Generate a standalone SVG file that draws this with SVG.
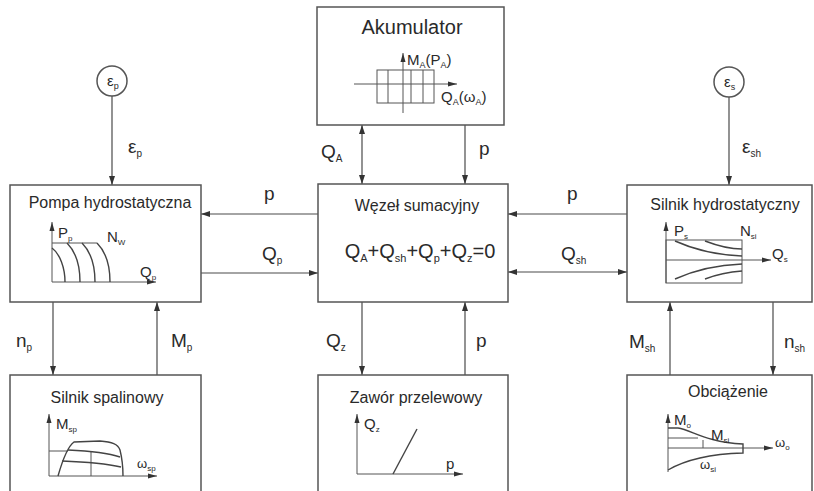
<svg xmlns="http://www.w3.org/2000/svg" width="814" height="491" viewBox="0 0 814 491">
<style>
text{font-family:"Liberation Sans",Arial,sans-serif;fill:#2a2a2a}
.box{fill:#fff;stroke:#555;stroke-width:1.5}
.t{font-size:16px;text-anchor:middle}
.lbl{font-size:19px}
.ch{font-size:15px}
.w{font-size:13px}
.c{fill:none;stroke:#4a4a4a;stroke-width:1.2}
.g{fill:none;stroke:#555;stroke-width:1}
.gc{fill:none;stroke:#444;stroke-width:1.4}
</style>
<defs>
<marker id="ar" markerUnits="userSpaceOnUse" markerWidth="9" markerHeight="7" refX="9" refY="3.5" orient="auto-start-reverse"><path d="M0,0.5 L9,3.5 L0,6.5 z" fill="#333"/></marker>
<marker id="ax" markerUnits="userSpaceOnUse" markerWidth="9" markerHeight="6" refX="9" refY="3" orient="auto"><path d="M0,0.5 L9,3 L0,5.5 z" fill="#333"/></marker>
</defs>
<rect width="814" height="491" fill="#fff"/>

<g id="connectors">
<line class="c" x1="112" y1="96" x2="112" y2="185" marker-end="url(#ar)"/>
<line class="c" x1="729" y1="97" x2="729" y2="185" marker-end="url(#ar)"/>
<line class="c" x1="362" y1="125" x2="362" y2="184" marker-start="url(#ar)" marker-end="url(#ar)"/>
<line class="c" x1="465" y1="125" x2="465" y2="184" marker-end="url(#ar)"/>
<line class="c" x1="318" y1="214" x2="201" y2="214" marker-end="url(#ar)"/>
<line class="c" x1="201" y1="273" x2="318" y2="273" marker-end="url(#ar)"/>
<line class="c" x1="627" y1="214" x2="508" y2="214" marker-end="url(#ar)"/>
<line class="c" x1="508" y1="272" x2="627" y2="272" marker-start="url(#ar)" marker-end="url(#ar)"/>
<line class="c" x1="53" y1="302" x2="53" y2="375" marker-end="url(#ar)"/>
<line class="c" x1="157" y1="375" x2="157" y2="302" marker-end="url(#ar)"/>
<line class="c" x1="362" y1="302" x2="362" y2="375" marker-end="url(#ar)"/>
<line class="c" x1="465" y1="375" x2="465" y2="302" marker-end="url(#ar)"/>
<line class="c" x1="670" y1="375" x2="670" y2="302" marker-end="url(#ar)"/>
<line class="c" x1="773" y1="302" x2="773" y2="375" marker-end="url(#ar)"/>
<text class="lbl" x="128" y="153">ε<tspan font-size="10" dy="4">p</tspan></text>
<text class="lbl" x="742" y="153">ε<tspan font-size="10" dy="4">sh</tspan></text>
<text class="lbl" x="321" y="158">Q<tspan font-size="10" dy="4">A</tspan></text>
<text class="lbl" x="479" y="155">p</text>
<text class="lbl" x="264" y="200">p</text>
<text class="lbl" x="262" y="260">Q<tspan font-size="10" dy="4">p</tspan></text>
<text class="lbl" x="567" y="200">p</text>
<text class="lbl" x="561" y="260">Q<tspan font-size="10" dy="4">sh</tspan></text>
<text class="lbl" x="16" y="347">n<tspan font-size="10" dy="4">p</tspan></text>
<text class="lbl" x="171" y="347">M<tspan font-size="10" dy="4">p</tspan></text>
<text class="lbl" x="326" y="347">Q<tspan font-size="10" dy="4">z</tspan></text>
<text class="lbl" x="476" y="347">p</text>
<text class="lbl" x="629" y="348">M<tspan font-size="10" dy="4">sh</tspan></text>
<text class="lbl" x="784" y="348">n<tspan font-size="10" dy="4">sh</tspan></text>
</g>

<g id="eps-p">
<circle cx="112" cy="81" r="15" fill="#fff" stroke="#555" stroke-width="1.5"/>
<text x="107" y="86" font-size="15">ε<tspan font-size="9" dy="3">p</tspan></text>
</g>
<g id="eps-s">
<circle cx="729" cy="82" r="15" fill="#fff" stroke="#555" stroke-width="1.5"/>
<text x="724" y="87" font-size="15">ε<tspan font-size="9" dy="3">s</tspan></text>
</g>

<g id="akumulator">
<rect class="box" x="317" y="7" width="187" height="118"/>
<text x="412" y="34" font-size="20" text-anchor="middle">Akumulator</text>
<rect class="g" x="377" y="70" width="57" height="33"/>
<path class="g" d="M388,70 V103 M411,70 V103 M423,70 V103"/>
<line class="g" x1="403" y1="113" x2="403" y2="53" marker-end="url(#ax)"/>
<line class="g" x1="354" y1="84" x2="457" y2="84" marker-end="url(#ax)"/>
<text class="ch" x="407" y="65" font-size="16">M<tspan font-size="9" dy="3">A</tspan><tspan dy="-3">(P</tspan><tspan font-size="9" dy="3">A</tspan><tspan dy="-3">)</tspan></text>
<text class="ch" x="441" y="102" font-size="16">Q<tspan font-size="9" dy="3">A</tspan><tspan dy="-3">(ω</tspan><tspan font-size="9" dy="3">A</tspan><tspan dy="-3">)</tspan></text>
</g>

<g id="pompa">
<rect class="box" x="10" y="185" width="191" height="117"/>
<text class="t" x="110" y="208">Pompa hydrostatyczna</text>
<line class="g" x1="52" y1="282" x2="52" y2="222" marker-end="url(#ax)"/>
<line class="g" x1="52" y1="282" x2="156" y2="282" marker-end="url(#ax)"/>
<line class="g" x1="52" y1="243" x2="97" y2="243"/>
<path class="gc" d="M52,248 C60,254 65,268 65,282 M67,243 C76,252 80,266 80,282 M82,243 C91,252 95,266 95,282 M97,243 C106,252 110,266 110,282"/>
<text class="ch" x="58" y="238">P<tspan font-size="8" dy="3">p</tspan></text>
<text class="ch" x="107" y="242">N<tspan font-size="8" dy="3">W</tspan></text>
<text class="ch" x="140" y="277">Q<tspan font-size="8" dy="3">p</tspan></text>
</g>

<g id="wezel">
<rect class="box" x="318" y="184" width="190" height="118"/>
<text class="t" x="417" y="211">Węzeł sumacyjny</text>
<text x="420" y="258" font-size="20" text-anchor="middle">Q<tspan font-size="11" dy="4">A</tspan><tspan dy="-4">+Q</tspan><tspan font-size="11" dy="4">sh</tspan><tspan dy="-4">+Q</tspan><tspan font-size="11" dy="4">p</tspan><tspan dy="-4">+Q</tspan><tspan font-size="11" dy="4">z</tspan><tspan dy="-4">=0</tspan></text>
</g>

<g id="silnik-hydro">
<rect class="box" x="627" y="185" width="185" height="117"/>
<text class="t" x="725" y="210">Silnik hydrostatyczny</text>
<rect class="g" x="666" y="240" width="76" height="43"/>
<line class="g" x1="666" y1="283" x2="666" y2="222" marker-end="url(#ax)"/>
<line class="g" x1="666" y1="260" x2="771" y2="260" marker-end="url(#ax)"/>
<path class="gc" d="M675,241 C695,250 715,255 742,256 M705,241 C718,246 728,249 742,249 M675,279 C695,270 715,265 742,264 M705,279 C718,274 728,272 742,271"/>
<text class="ch" x="674" y="236">P<tspan font-size="8" dy="3">s</tspan></text>
<text class="ch" x="740" y="236">N<tspan font-size="8" dy="3">si</tspan></text>
<text class="ch" x="772" y="259">Q<tspan font-size="8" dy="3">s</tspan></text>
</g>

<g id="silnik-spalinowy">
<rect class="box" x="10" y="375" width="191" height="130"/>
<text class="t" x="107" y="403">Silnik spalinowy</text>
<line class="g" x1="49" y1="476" x2="49" y2="414" marker-end="url(#ax)"/>
<line class="g" x1="49" y1="476" x2="157" y2="476" marker-end="url(#ax)"/>
<line class="g" x1="49" y1="451" x2="68" y2="451"/>
<line class="g" x1="91" y1="452" x2="91" y2="476"/>
<path class="gc" d="M58,476 C62,462 67,447 74,442 L100,441 C112,442 118,444 120,450 C122,458 123,468 123,476"/>
<path class="gc" d="M68,450 C90,451 108,453 120,457 M62,461 C88,462 108,464 121,467"/>
<text class="ch" x="56" y="429">M<tspan font-size="8" dy="3">sp</tspan></text>
<text class="w" x="137" y="468">ω<tspan font-size="8" dy="3">sp</tspan></text>
</g>

<g id="zawor">
<rect class="box" x="318" y="375" width="190" height="130"/>
<text class="t" x="416" y="403">Zawór przelewowy</text>
<line class="g" x1="357" y1="474" x2="357" y2="414" marker-end="url(#ax)"/>
<line class="g" x1="357" y1="474" x2="463" y2="474" marker-end="url(#ax)"/>
<line class="gc" x1="393" y1="474" x2="417" y2="429"/>
<text class="ch" x="364" y="429">Q<tspan font-size="8" dy="3">z</tspan></text>
<text class="ch" x="446" y="469">p</text>
</g>

<g id="obciazenie">
<rect class="box" x="627" y="375" width="185" height="130"/>
<text class="t" x="728" y="397">Obciążenie</text>
<line class="g" x1="668" y1="472" x2="668" y2="414" marker-end="url(#ax)"/>
<line class="g" x1="668" y1="448" x2="773" y2="448" marker-end="url(#ax)"/>
<line class="g" x1="668" y1="438" x2="698" y2="438"/>
<line class="g" x1="703" y1="440" x2="703" y2="448"/>
<path class="gc" d="M668,428 L678,428 C692,430 705,442 743,444 L743,453 C710,454 685,460 668,470"/>
<text class="ch" x="674" y="425">M<tspan font-size="8" dy="3">o</tspan></text>
<text class="ch" x="711" y="440">M<tspan font-size="8" dy="3">si</tspan></text>
<text class="w" x="775" y="447">ω<tspan font-size="8" dy="3">o</tspan></text>
<text class="w" x="700" y="469">ω<tspan font-size="8" dy="3">si</tspan></text>
</g>
</svg>
